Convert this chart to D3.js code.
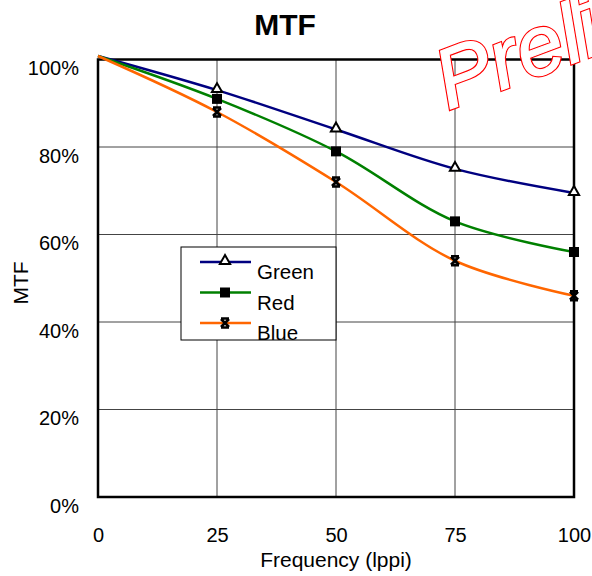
<!DOCTYPE html>
<html>
<head>
<meta charset="utf-8">
<script src="https://cdn.jsdelivr.net/npm/d3@7"></script>
<style>
  body { margin: 0; background: #fff; }
  text { font-family: "Liberation Sans", Arial, sans-serif; }
</style>
</head>
<body>
<script>
'use strict';

var freq = [0, 25, 50, 75, 100];
var green = [100.8, 93, 84, 75, 69.5];
var red = [100.8, 91, 79, 63, 56];
var blue = [100.8, 88, 72, 54, 46];
var yTicks = [0, 20, 40, 60, 80, 100];
var xTicks = [0, 25, 50, 75, 100];
var seriesNames = ["Green", "Red", "Blue"];

var width = 592, height = 576;
var pLeft = 98, pRight = 574, pTop = 59.5, pBottom = 497;

var svg = d3.select("body")
  .append("svg")
    .attr("width", width)
    .attr("height", height);

var xScale = d3.scaleLinear()
  .domain([0, 100])
  .range([pLeft, pRight]);
var yScale = d3.scaleLinear()
  .domain([0, 100])
  .range([pBottom, pTop]);

// grid
svg.append("g")
  .selectAll("line")
  .data(xTicks.slice(1, -1))
  .enter().append("line")
    .attr("x1", d => xScale(d)).attr("x2", d => xScale(d))
    .attr("y1", pTop).attr("y2", pBottom)
    .attr("stroke", "#444").attr("stroke-width", 1);
svg.append("g")
  .selectAll("line")
  .data(yTicks.slice(1, -1))
  .enter().append("line")
    .attr("x1", pLeft).attr("x2", pRight)
    .attr("y1", d => yScale(d)).attr("y2", d => yScale(d))
    .attr("stroke", "#444").attr("stroke-width", 1);

// axes (labels only, Excel style)
var yAxis = d3.axisLeft(yScale)
  .tickValues(yTicks)
  .tickSize(0)
  .tickPadding(19)
  .tickFormat(d => d + "%");
svg.append("g")
  .attr("transform", "translate(" + pLeft + ",9)")
  .call(yAxis)
  .call(g => g.select(".domain").remove())
  .selectAll("text")
    .style("font-size", "20px")
    .style("font-family", "Liberation Sans, Arial, sans-serif")
    .attr("fill", "#000");

var xAxis = d3.axisBottom(xScale)
  .tickValues(xTicks)
  .tickSize(0)
  .tickPadding(31);
svg.append("g")
  .attr("transform", "translate(0," + pBottom + ")")
  .call(xAxis)
  .call(g => g.select(".domain").remove())
  .selectAll("text")
    .style("font-size", "20px")
    .style("font-family", "Liberation Sans, Arial, sans-serif")
    .attr("fill", "#000");

// plot border
svg.append("rect")
  .attr("x", pLeft).attr("y", pTop)
  .attr("width", pRight - pLeft).attr("height", pBottom - pTop)
  .attr("fill", "none")
  .attr("stroke", "#000")
  .attr("stroke-width", 2.5);

var line = d3.line()
  .x(d => xScale(d[0]))
  .y(d => yScale(d[1]))
  .curve(d3.curveCatmullRom);

var series = [
  {name: seriesNames[0], vals: green, color: "#000080", mark: "tri"},
  {name: seriesNames[1], vals: red, color: "#008000", mark: "sq"},
  {name: seriesNames[2], vals: blue, color: "#ff6600", mark: "x"}
];

function drawMark(g, type, x, y) {
  if (type == "tri") {
    g.append("path")
      .attr("d", d3.symbol().type(d3.symbolTriangle).size(45)())
      .attr("transform", "translate(" + x + "," + (y - 1) + ")")
      .attr("fill", "#fff").attr("stroke", "#000").attr("stroke-width", 2);
  } else if (type == "sq") {
    g.append("rect")
      .attr("x", x - 5).attr("y", y - 5)
      .attr("width", 10).attr("height", 10)
      .attr("fill", "#000");
  } else {
    g.append("path")
      .attr("d", "M-4,-4L4,4M-4,4L4,-4M-4,-4.5L4,-4.5M-4,4.5L4,4.5")
      .attr("transform", "translate(" + x + "," + y + ")")
      .attr("stroke", "#000").attr("stroke-width", 2.6)
      .attr("fill", "none");
  }
}

series.forEach(function(s) {
  var pts = freq.map((f, i) => [f, s.vals[i]]);
  svg.append("path")
    .attr("d", line(pts))
    .attr("fill", "none")
    .attr("stroke", s.color)
    .attr("stroke-width", 2.5);
  var mg = svg.append("g");
  pts.slice(1).forEach(p => drawMark(mg, s.mark, xScale(p[0]), yScale(p[1])));
});

// legend
var legend = svg.append("g");
legend.append("rect")
  .attr("x", 181).attr("y", 247)
  .attr("width", 155).attr("height", 93)
  .attr("fill", "#fff")
  .attr("stroke", "#000").attr("stroke-width", 1);
series.forEach(function(s, i) {
  var ly = 262 + i * 30.5;
  legend.append("line")
    .attr("x1", 200).attr("x2", 251)
    .attr("y1", ly).attr("y2", ly)
    .attr("stroke", s.color).attr("stroke-width", 2.5);
  drawMark(legend, s.mark, 225, ly);
  legend.append("text")
    .attr("x", 257).attr("y", ly + 17)
    .style("font-size", "20.5px")
    .text(s.name);
});

// titles
svg.append("text")
  .attr("x", 285).attr("y", 35)
  .attr("text-anchor", "middle")
  .style("font-size", "30px")
  .style("font-weight", "bold")
  .text("MTF");
svg.append("text")
  .attr("transform", "translate(28,283) rotate(-90)")
  .attr("text-anchor", "middle")
  .style("font-size", "21px")
  .text("MTF");
svg.append("text")
  .attr("x", 336).attr("y", 567)
  .attr("text-anchor", "middle")
  .style("font-size", "21px")
  .text("Frequency (lppi)");

// watermark, double outline
var wm = svg.append("g")
  .attr("transform", "translate(448,110) rotate(-20.5)");
wm.append("text")
  .style("font-size", "84px")
  .style("font-style", "italic")
  .attr("fill", "#fff")
  .attr("stroke", "#f00")
  .attr("stroke-width", 3.4)
  .text("Preliminary");
wm.append("text")
  .style("font-size", "84px")
  .style("font-style", "italic")
  .attr("fill", "#fff")
  .attr("stroke", "#fff")
  .attr("stroke-width", 1.1)
  .text("Preliminary");
</script>
</body>
</html>
